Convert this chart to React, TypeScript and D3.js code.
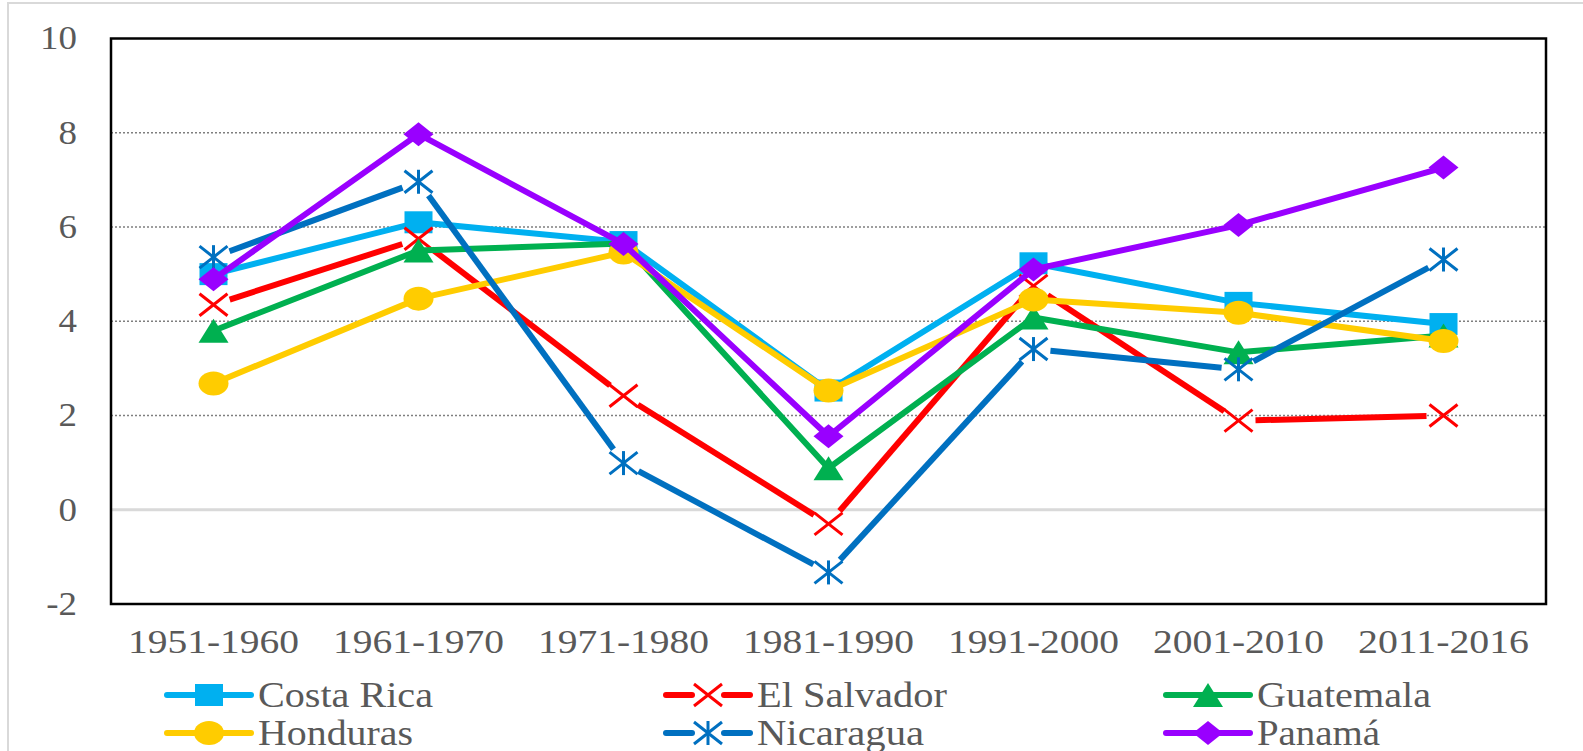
import React from 'react';
import * as d3 from 'd3';

const periods = ['1951-1960', '1961-1970', '1971-1980', '1981-1990', '1991-2000', '2001-2010', '2011-2016'];

const costaRica = [5.0, 6.1, 5.68, 2.53, 5.23, 4.39, 3.94];
const elSalvador = [4.35, 5.75, 2.42, -0.3, 4.75, 1.89, 2.0];
const guatemala = [3.8, 5.5, 5.65, 0.88, 4.08, 3.34, 3.7];
const honduras = [2.68, 4.48, 5.46, 2.53, 4.46, 4.18, 3.58];
const nicaragua = [5.36, 6.96, 0.99, -1.33, 3.41, 2.98, 5.31];
const panama = [4.89, 7.97, 5.64, 1.56, 5.1, 6.04, 7.26];

const yTicks = [-2, 0, 2, 4, 6, 8, 10];

type Marker = 'square' | 'x' | 'triangle' | 'circle' | 'asterisk' | 'diamond';

const series: { name: string; values: number[]; color: string; marker: Marker }[] = [
  { name: 'Costa Rica', values: costaRica, color: '#00B0F0', marker: 'square' },
  { name: 'El Salvador', values: elSalvador, color: '#FF0000', marker: 'x' },
  { name: 'Guatemala', values: guatemala, color: '#00B050', marker: 'triangle' },
  { name: 'Honduras', values: honduras, color: '#FFCC00', marker: 'circle' },
  { name: 'Nicaragua', values: nicaragua, color: '#0070C0', marker: 'asterisk' },
  { name: 'Panamá', values: panama, color: '#9900FF', marker: 'diamond' },
];

// legend text widths
const legendWidths = [175, 190, 174, 155, 167, 123];

const W = 1583;
const H = 751;
const plot = { left: 111, right: 1546, top: 38.5, bottom: 604 };
const font = '"Liberation Serif", "Times New Roman", serif';
const textColor = '#595959';

const MarkerShape = ({ type, x, y, color }: { type: Marker; x: number; y: number; color: string }) => {
  const hw = 15;
  const hh = 12;
  if (type === 'square')
    return <rect x={x - 14} y={y - 11} width={28} height={22} fill={color} />;
  if (type === 'circle') return <ellipse cx={x} cy={y} rx={hw} ry={hh} fill={color} />;
  if (type === 'triangle')
    return <polygon points={`${x},${y - hh} ${x + hw},${y + hh} ${x - hw},${y + hh}`} fill={color} />;
  if (type === 'diamond')
    return <polygon points={`${x},${y - hh} ${x + hw},${y} ${x},${y + hh} ${x - hw},${y}`} fill={color} />;
  const xs = (
    <path
      d={`M${x - 14},${y - 11}L${x + 14},${y + 11}M${x - 14},${y + 11}L${x + 14},${y - 11}`}
      stroke={color}
      strokeWidth={3}
      fill="none"
    />
  );
  if (type === 'x') return xs;
  return (
    <g>
      {xs}
      <path d={`M${x},${y - 12}L${x},${y + 12}`} stroke={color} strokeWidth={3} />
    </g>
  );
};

export default function App() {
  const x = d3.scaleBand().domain(periods).range([plot.left, plot.right]);
  const y = d3.scaleLinear().domain([-2, 10]).range([plot.bottom, plot.top]);
  const cx = (p: string) => (x(p) ?? 0) + x.bandwidth() / 2;

  const line = d3
    .line<[number, number]>()
    .x((d) => d[0])
    .y((d) => d[1]);

  const trim = 17;
  const lw = 6;

  const legendRows = [695, 733];
  const legendCols = [167, 666, 1166];

  return (
    <div style={{ position: 'absolute', left: 0, top: 0 }}>
      <svg width={W} height={H} style={{ display: 'block', background: '#fff' }}>
        <rect x={8} y={3} width={W} height={H} fill="#fff" stroke="#D9D9D9" strokeWidth={2} />

        {/* gridlines */}
        {yTicks
          .filter((t) => t > -2 && t < 10 && t !== 0)
          .map((t) => (
            <line
              key={t}
              x1={plot.left}
              x2={plot.right}
              y1={y(t)}
              y2={y(t)}
              stroke="#7F7F7F"
              strokeWidth={1.5}
              strokeDasharray="2 2"
            />
          ))}
        <line x1={plot.left} x2={plot.right} y1={y(0)} y2={y(0)} stroke="#D9D9D9" strokeWidth={3} />

        {/* y labels */}
        {yTicks.map((t) => (
          <text
            key={t}
            x={77}
            y={y(t) + 11}
            textAnchor="end"
            fontFamily={font}
            fontSize={33}
            fill={textColor}
            transform={`translate(77,0) scale(1.12,1) translate(-77,0)`}
          >
            {t}
          </text>
        ))}

        {/* x labels */}
        {periods.map((p) => (
          <text
            key={p}
            x={cx(p)}
            y={653}
            textAnchor="middle"
            fontFamily={font}
            fontSize={33}
            fill={textColor}
            textLength={171}
            lengthAdjust="spacingAndGlyphs"
          >
            {p}
          </text>
        ))}

        {/* series */}
        {series.map((s) => {
          const pts: [number, number][] = s.values.map((v, i) => [cx(periods[i]), y(v)]);
          const open = s.marker === 'x' || s.marker === 'asterisk';
          return (
            <g key={s.name}>
              {open ? (
                pts.slice(1).map((b, i) => {
                  const a = pts[i];
                  const dx = b[0] - a[0];
                  const dy = b[1] - a[1];
                  const len = Math.hypot(dx, dy);
                  const ux = dx / len;
                  const uy = dy / len;
                  const seg: [number, number][] = [
                    [a[0] + ux * trim, a[1] + uy * trim],
                    [b[0] - ux * trim, b[1] - uy * trim],
                  ];
                  return <path key={i} d={line(seg) ?? ''} stroke={s.color} strokeWidth={lw} fill="none" />;
                })
              ) : (
                <path d={line(pts) ?? ''} stroke={s.color} strokeWidth={lw} fill="none" strokeLinejoin="round" />
              )}
              {pts.map((p, i) => (
                <MarkerShape key={i} type={s.marker} x={p[0]} y={p[1]} color={s.color} />
              ))}
            </g>
          );
        })}

        {/* plot frame */}
        <rect
          x={plot.left}
          y={plot.top}
          width={plot.right - plot.left}
          height={plot.bottom - plot.top}
          fill="none"
          stroke="#000"
          strokeWidth={2.5}
        />

        {/* legend */}
        {series.map((s, i) => {
          const lx = legendCols[i % 3];
          const ly = legendRows[Math.floor(i / 3)];
          const mid = lx + 42;
          const open = s.marker === 'x' || s.marker === 'asterisk';
          return (
            <g key={s.name}>
              {open ? (
                <>
                  <line x1={lx} x2={mid - 16} y1={ly} y2={ly} stroke={s.color} strokeWidth={lw} strokeLinecap="round" />
                  <line x1={mid + 16} x2={lx + 84} y1={ly} y2={ly} stroke={s.color} strokeWidth={lw} strokeLinecap="round" />
                </>
              ) : (
                <line x1={lx} x2={lx + 84} y1={ly} y2={ly} stroke={s.color} strokeWidth={lw} strokeLinecap="round" />
              )}
              <MarkerShape type={s.marker} x={mid} y={ly} color={s.color} />
              <text
                x={lx + 91}
                y={ly + 12}
                fontFamily={font}
                fontSize={35}
                fill={textColor}
                textLength={legendWidths[i]}
                lengthAdjust="spacingAndGlyphs"
              >
                {s.name}
              </text>
            </g>
          );
        })}
      </svg>
    </div>
  );
}
